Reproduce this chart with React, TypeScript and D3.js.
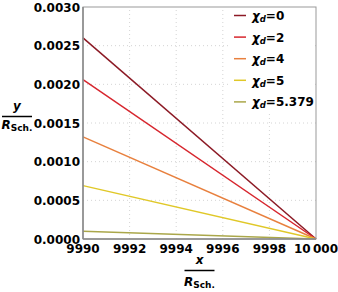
import { scaleLinear, line } from 'd3'

// χ_d curves: y/R_Sch. vs x/R_Sch., each falls linearly to zero at x = 10000
const xs = [9990, 10000]
const chiLabels = ['0', '2', '4', '5', '5.379']
const startValues = [0.0026, 0.00206, 0.00132, 0.00069, 0.0001]
const endValues = [0, 0, 0, 0, 0]
const colors = ['#8c1a25', '#d7262e', '#e8803e', '#e0c828', '#aaa74a']

const xTicks = [9990, 9992, 9994, 9996, 9998, 10000]
const yTicks = [0, 0.0005, 0.001, 0.0015, 0.002, 0.0025, 0.003]

const W = 338
const H = 292
const M = { left: 83, right: 22, top: 7, bottom: 53 }
const FONT = 'DejaVu Sans, sans-serif'

export default function App() {
  const x = scaleLinear().domain([9990, 10000]).range([M.left, W - M.right])
  const y = scaleLinear().domain([0, 0.003]).range([H - M.bottom, M.top])
  const path = line<[number, number]>()
    .x((d) => x(d[0]))
    .y((d) => y(d[1]))

  const series = chiLabels.map((lab, i) => ({
    lab,
    color: colors[i],
    pts: xs.map((xv, j) => [xv, j === 0 ? startValues[i] : endValues[i]] as [number, number]),
  }))

  const fmtX = (v: number) => (v >= 10000 ? '10\u2009000' : String(v))
  const cx = (x(9990) + x(10000)) / 2

  return (
    <svg
      width={W}
      height={H}
      style={{ position: 'absolute', left: 0, top: 0, background: '#fff' }}
      fontFamily={FONT}
      fontWeight="bold"
    >
      <rect x={0} y={0} width={W} height={H} fill="#fff" />
      {/* grid */}
      {xTicks.slice(1, -1).map((t) => (
        <line key={'gx' + t} x1={x(t)} x2={x(t)} y1={y(0)} y2={y(0.003)} stroke="#d4d4d4" strokeDasharray="1,3" />
      ))}
      {yTicks.slice(1, -1).map((t) => (
        <line key={'gy' + t} x1={x(9990)} x2={x(10000)} y1={y(t)} y2={y(t)} stroke="#d4d4d4" strokeDasharray="1,3" />
      ))}

      {/* legend background */}
      <rect x={228} y={M.top + 1} width={x(10000) - 229} height={105} fill="#fff" />

      {/* lines */}
      {series.map((s) => (
        <path key={s.lab} d={path(s.pts) ?? ''} fill="none" stroke={s.color} strokeWidth={1.5} />
      ))}

      {/* frame */}
      <rect x={x(9990)} y={y(0.003)} width={x(10000) - x(9990)} height={y(0) - y(0.003)} fill="none" stroke="#999" strokeWidth={1} />
      <line x1={x(9990)} x2={x(9990)} y1={y(0)} y2={y(0.003)} stroke="#888" strokeWidth={1.5} />
      <line x1={x(9990)} x2={x(10000)} y1={y(0)} y2={y(0)} stroke="#888" strokeWidth={1.5} />

      {/* y ticks */}
      {yTicks.map((t) => (
        <text key={'ty' + t} x={x(9990) - 3} y={y(t) + 4.5} textAnchor="end" fontSize={12}>
          {t.toFixed(4)}
        </text>
      ))}
      {/* x ticks */}
      {xTicks.map((t) => (
        <text key={'tx' + t} x={x(t)} y={y(0) + 14} textAnchor="middle" fontSize={12}>
          {fmtX(t)}
        </text>
      ))}

      {/* y label */}
      <text x={17} y={110} textAnchor="middle" fontSize={12} fontStyle="italic">y</text>
      <line x1={2} x2={32} y1={116.5} y2={116.5} stroke="#000" strokeWidth={1.5} />
      <text x={17} y={129} textAnchor="middle" fontSize={12}>
        <tspan fontStyle="italic">R</tspan>
        <tspan fontSize={9} dy={2}>Sch.</tspan>
      </text>

      {/* x label */}
      <text x={cx} y={264} textAnchor="middle" fontSize={12} fontStyle="italic">x</text>
      <line x1={cx - 15} x2={cx + 15} y1={270.5} y2={270.5} stroke="#000" strokeWidth={1.5} />
      <text x={cx} y={286} textAnchor="middle" fontSize={12}>
        <tspan fontStyle="italic">R</tspan>
        <tspan fontSize={9} dy={2}>Sch.</tspan>
      </text>

      {/* legend */}
      {series.map((s, i) => {
        const ly = 15.5 + i * 21.6
        return (
          <g key={'lg' + s.lab}>
            <line x1={234} x2={246} y1={ly} y2={ly} stroke={s.color} strokeWidth={1.5} />
            <text x={252} y={ly + 4.5} fontSize={12}>
              <tspan fontStyle="italic">χ</tspan>
              <tspan fontStyle="italic" fontSize={8.5} dy={2}>d</tspan>
              <tspan dy={-2}>={s.lab}</tspan>
            </text>
          </g>
        )
      })}
    </svg>
  )
}
